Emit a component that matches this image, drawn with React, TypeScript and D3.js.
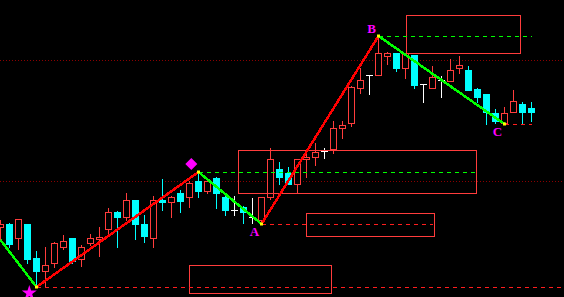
import React, { useEffect, useRef } from "react";
import * as d3 from "d3";

// OHLC per bar (index = bar number)
const opens = [17.0,17.3,15.9,17.3,13.9,12.6,13.4,15.0,15.9,13.8,15.4,15.8,16.8,18.5,18.0,19.7,17.3,15.9,19.7,19.5,20.4,20.0,21.6,20.6,21.9,20.0,18.7,19.0,18.0,17.7,20.0,22.8,22.4,21.3,23.8,24.0,24.6,24.8,26.9,27.4,30.9,32.2,32.2,34.1,34.4,32.9,34.2,31.3,30.9,31.7,31.6,32.9,32.7,30.8,30.3,28.4,27.4,28.5,29.3,28.9];
const closes = [17.3,15.3,17.8,13.8,12.6,13.2,15.4,15.6,13.6,15.0,15.9,16.0,18.5,18.0,19.7,17.3,16.1,19.7,19.5,20.0,19.6,21.4,20.6,21.6,20.4,18.7,18.7,18.5,18.0,20.0,23.8,22.0,21.3,23.8,24.0,24.5,24.6,26.9,27.2,31.0,31.7,32.2,34.4,34.4,32.9,34.4,31.2,31.3,32.0,31.7,32.7,33.2,30.7,30.0,28.5,27.6,28.4,29.6,28.5,28.5];
const highs = [17.8,17.5,17.8,17.3,14.7,15.1,15.6,16.3,15.9,15.3,16.4,17.1,19.0,18.7,20.5,19.7,18.3,20.2,21.9,20.2,20.8,21.7,22.4,21.9,22.1,20.2,20.2,19.2,20.0,20.0,25.0,23.6,23.1,23.9,24.5,25.5,25.0,27.7,27.7,31.2,33.0,32.2,36.1,34.6,34.4,34.4,34.2,31.3,33.2,32.2,33.9,34.2,33.2,31.0,30.3,28.9,29.1,30.8,29.6,29.6];
const lows = [15.7,15.0,14.8,13.4,11.0,11.1,13.0,14.8,13.4,13.1,15.2,14.1,16.3,15.0,17.7,15.8,15.5,15.0,18.7,18.0,18.5,19.0,20.0,20.4,18.9,18.2,18.2,17.4,17.4,17.3,19.8,21.3,21.3,20.4,22.0,23.2,23.9,24.4,25.9,27.1,30.4,30.3,32.2,33.3,32.6,31.9,30.9,29.5,30.9,30.0,31.6,32.4,30.7,29.5,27.3,27.4,27.3,28.5,27.3,27.6];

// zigzag pivots (bar index, price)
const pivotIdx = [0, 4, 22, 29, 42, 56];
const pivotPrice = [15.7, 11.0, 22.5, 17.3, 36.1, 27.3];
const pivotLabels = ["", "", "", "A", "B", "C"];

// horizontal level lines: start idx, end idx, price, kind
const levelStart = [4, 22, 29, 42, 56];
const levelEnd = [63, 53, 48, 59, 59];
const levelPrice = [11.0, 22.5, 17.3, 36.1, 27.3];
const levelKind = ["down", "up", "down", "up", "down"];

// boxes: [x0 idx, x1 idx, top price, bottom price]
const boxX0 = [45.06, 26.4, 33.94, 20.94];
const boxX1 = [57.72, 52.83, 48.17, 36.72];
const boxTop = [38.2, 24.7, 18.4, 13.2];
const boxBottom = [34.4, 20.4, 16.1, 10.4];

// dotted reference levels
const refLevels = [33.7, 21.6];

const W = 564;
const H = 297;
const RED = "#ff3c3c";
const CYAN = "#00ffff";

export default function App() {
  const ref = useRef<SVGSVGElement>(null);
  useEffect(() => {
    document.body.style.margin = "0";
    document.body.style.background = "#000";
    const svg = d3.select(ref.current);
    svg.selectAll("*").remove();
    const x = d3.scaleLinear().domain([0, 1]).range([0.5, 9.5]);
    const y = d3.scaleLinear().domain([10, 39.7]).range([H, 0]);
    const yr = (p: number) => Math.round(y(p)) + 0.5;

    svg.append("rect").attr("width", W).attr("height", H).attr("fill", "#000");

    // dotted ref lines
    refLevels.forEach((p) => {
      svg.append("line").attr("x1", 0).attr("x2", W).attr("y1", yr(p)).attr("y2", yr(p))
        .attr("stroke", "#8b0000").attr("stroke-dasharray", "1,2");
    });

    // candles
    const g = svg.append("g").attr("shape-rendering", "crispEdges");
    opens.forEach((o, i) => {
      const c = closes[i];
      const cx = x(i);
      const top = yr(Math.max(o, c));
      const bot = yr(Math.min(o, c));
      const hi = yr(highs[i]);
      const lo = yr(lows[i]);
      if (c > o) {
        if (hi < top) g.append("line").attr("x1", cx).attr("x2", cx).attr("y1", hi).attr("y2", top).attr("stroke", RED);
        if (lo > bot) g.append("line").attr("x1", cx).attr("x2", cx).attr("y1", bot).attr("y2", lo).attr("stroke", RED);
        g.append("rect").attr("x", cx - 3).attr("y", top).attr("width", 6).attr("height", Math.max(bot - top, 1))
          .attr("fill", "#000").attr("stroke", RED);
      } else if (c < o) {
        g.append("line").attr("x1", cx).attr("x2", cx).attr("y1", hi).attr("y2", lo).attr("stroke", CYAN);
        g.append("rect").attr("x", cx - 3.5).attr("y", top - 0.5).attr("width", 7).attr("height", bot - top + 1)
          .attr("fill", CYAN);
      } else {
        g.append("line").attr("x1", cx).attr("x2", cx).attr("y1", hi).attr("y2", lo).attr("stroke", "#fff");
        g.append("line").attr("x1", cx - 3.5).attr("x2", cx + 3.5).attr("y1", top).attr("y2", top).attr("stroke", "#fff");
      }
    });

    // boxes
    boxX0.forEach((bx, k) => {
      const x0 = Math.round(x(bx)) + 0.5;
      const x1 = Math.round(x(boxX1[k])) + 0.5;
      svg.append("rect").attr("x", x0).attr("y", yr(boxTop[k])).attr("width", x1 - x0)
        .attr("height", yr(boxBottom[k]) - yr(boxTop[k])).attr("fill", "none").attr("stroke", RED)
        .attr("shape-rendering", "crispEdges");
    });

    // level lines
    levelStart.forEach((s, k) => {
      svg.append("line").attr("x1", x(s)).attr("x2", Math.min(x(levelEnd[k]), W)).attr("y1", yr(levelPrice[k])).attr("y2", yr(levelPrice[k]))
        .attr("stroke", levelKind[k] === "up" ? "#00ff00" : "#ff1e1e").attr("stroke-dasharray", "4,4")
        .attr("shape-rendering", "crispEdges");
    });

    // zigzag
    for (let k = 0; k < pivotIdx.length - 1; k++) {
      const up = pivotPrice[k + 1] > pivotPrice[k];
      svg.append("line").attr("x1", x(pivotIdx[k])).attr("y1", y(pivotPrice[k]))
        .attr("x2", x(pivotIdx[k + 1])).attr("y2", y(pivotPrice[k + 1]))
        .attr("stroke", up ? "#ff0000" : "#00ff00").attr("stroke-width", 2.5)
        .attr("shape-rendering", "crispEdges");
    }
    pivotIdx.forEach((pi, k) => {
      if (k === 0) return;
      svg.append("rect").attr("x", x(pi) - 1.5).attr("y", y(pivotPrice[k]) - 1.5).attr("width", 3).attr("height", 3).attr("fill", "#ffff00");
      if (pivotLabels[k]) {
        const isTop = k === 4;
        svg.append("text").attr("x", x(pi) - 7).attr("y", y(pivotPrice[k]) + (isTop ? -3 : 12))
          .attr("text-anchor", "middle").attr("fill", "#ff00ff")
          .attr("font-family", "'Liberation Serif', 'DejaVu Serif', serif").attr("font-size", 13)
          .attr("font-weight", "bold")
          .text(pivotLabels[k]);
      }
    });

    // diamond above peak
    const dx = x(21.2), dy = y(23.3);
    svg.append("path").attr("d", `M${dx},${dy - 6}L${dx + 6},${dy}L${dx},${dy + 6}L${dx - 6},${dy}Z`).attr("fill", "#ff00ff");
    // star below low
    const sx = x(3.2), sy = y(10.4);
    svg.append("path").attr("d", d3.symbol(d3.symbolStar, 70)()).attr("transform", `translate(${sx},${sy})`).attr("fill", "#ff00ff");
  }, []);
  return <svg ref={ref} width={W} height={H} style={{ display: "block" }} />;
}
